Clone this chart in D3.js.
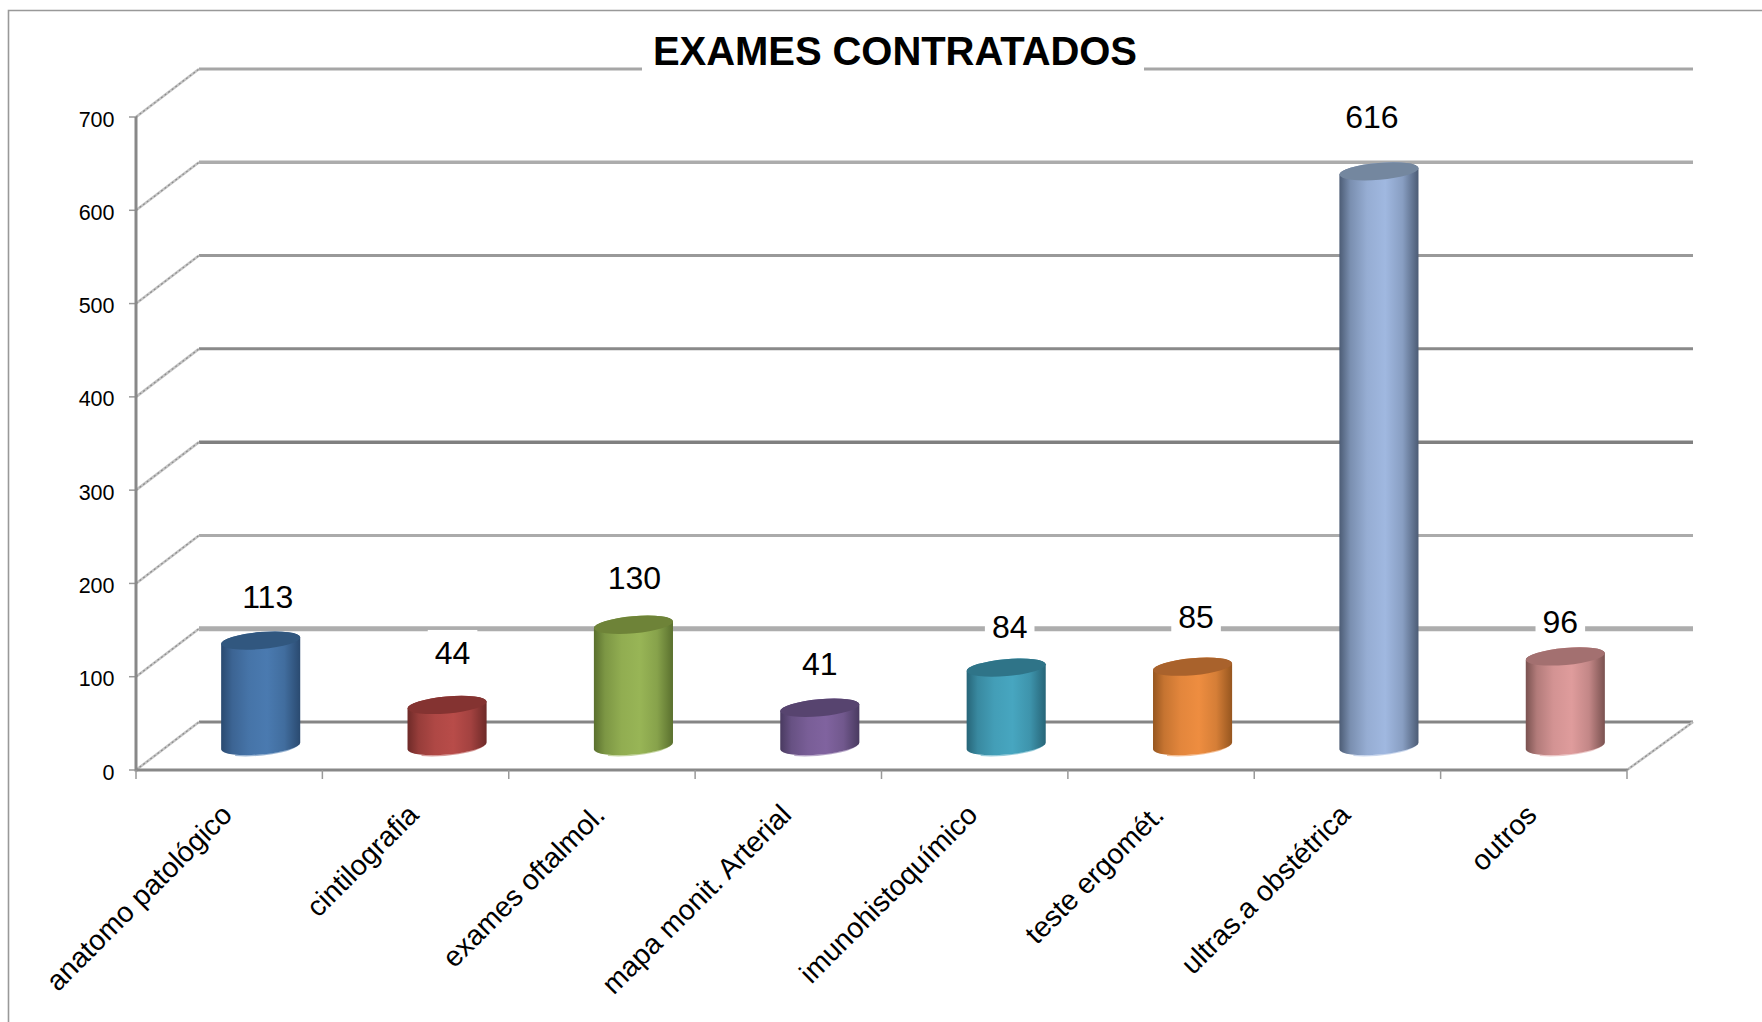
<!DOCTYPE html>
<html><head><meta charset="utf-8">
<script src="https://cdnjs.cloudflare.com/ajax/libs/d3/7.8.5/d3.min.js"></script>
<style>html,body{margin:0;padding:0;background:#fff}svg{display:block}text{font-family:"Liberation Sans",Arial,sans-serif;fill:#000;white-space:pre}</style>
</head><body><svg id="c" width="1762" height="1022"></svg>
<script>
const categories = ["anatomo patológico","cintilografia","exames oftalmol.","mapa monit. Arterial","imunohistoquímico","teste ergomét.","ultras.a obstétrica","outros"];
const values = [113,44,130,41,84,85,616,96];
const yTicks = [0,100,200,300,400,500,600,700];
const titleText = "EXAMES CONTRATADOS";
const barEdge = ["#2a4a70","#6e2a28","#5a702e","#493a60","#276578","#96561f","#4c5c75","#7a5250"];
const barMid  = ["#4a7ab0","#b84c49","#98b556","#80639f","#47a6c0","#ee8d40","#a0b8e0","#df9c9c"];
const barTop  = ["#31577f","#843331","#6e8338","#57446f","#2f7488","#a9622c","#74879f","#a37070"];
const gridColor = ["#858585","#adadad","#ababab","#808080","#8a8a8a","#999999","#acacac","#a6a6a6"];
const gridWidth = [3,5,3,3.5,3,3,3.5,3];
const labelLift = [44,52,47,44,41,50,54,34];
const labelShift = [7,5.5,1,0,3.5,3.5,-7,-5];

const svg = d3.select("#c");
const plotL=136,plotR=1627,plotB=770,plotT=117,depthX=63,depthY=48;
const x = d3.scaleBand().domain(categories).range([plotL,plotR]);
const y = d3.scaleLinear().domain([0,700]).range([plotB,plotT]);
const rx = x.bandwidth()*0.213, ry = 8.5, tilt = 5;
const sin = Math.sin(tilt*Math.PI/180), cos = Math.cos(tilt*Math.PI/180);

// frame
svg.append("path").attr("d","M8.5,1022V10.5H1762").attr("fill","none").attr("stroke","#999").attr("stroke-width",1.6);

// walls
const g = svg.append("g");
function diagonal(x1,y1,x2,y2){
  g.append("line").attr("x1",x1).attr("x2",x2).attr("y1",y1).attr("y2",y2).attr("stroke","#c4c4c4").attr("stroke-width",2.6);
  g.append("line").attr("x1",x1).attr("x2",x2).attr("y1",y1).attr("y2",y2).attr("stroke","#8c8c8c").attr("stroke-width",1.2).attr("stroke-dasharray","2 2.5");
}
yTicks.forEach((t,i)=>{
  const yy=y(t);
  g.append("line").attr("x1",plotL+depthX).attr("x2",plotR+66).attr("y1",yy-depthY).attr("y2",yy-depthY)
    .attr("stroke",gridColor[i]).attr("stroke-width",gridWidth[i]);
  diagonal(plotL,yy,plotL+depthX,yy-depthY);
  g.append("line").attr("x1",plotL-7).attr("x2",plotL).attr("y1",yy).attr("y2",yy).attr("stroke","#999").attr("stroke-width",1.5);
  svg.append("text").attr("x",114.5).attr("y",yy+9.5).attr("text-anchor","end").attr("font-size",21.5).text(t);
});
// floor right side
diagonal(plotR,plotB,plotR+66,plotB-depthY);

// axes
g.append("line").attr("x1",plotL).attr("x2",plotL).attr("y1",plotT).attr("y2",plotB+1.5).attr("stroke","#888").attr("stroke-width",3);
g.append("line").attr("x1",plotL).attr("x2",plotR).attr("y1",plotB).attr("y2",plotB).attr("stroke","#888").attr("stroke-width",3);
d3.range(categories.length+1).forEach(i=>{
  const xx=plotL+i*x.step();
  g.append("line").attr("x1",xx).attr("x2",xx).attr("y1",plotB).attr("y2",plotB+9).attr("stroke","#999").attr("stroke-width",1.5);
});

// gradients
const defs = svg.append("defs");
categories.forEach((c,i)=>{
  const gr=defs.append("linearGradient").attr("id","bar"+i).attr("x1","0").attr("x2","1").attr("y1","0").attr("y2","0");
  [[0,barEdge[i]],[0.14,d3.interpolateRgb(barEdge[i],barMid[i])(0.55)],[0.35,d3.interpolateRgb(barEdge[i],barMid[i])(0.88)],[0.58,barMid[i]],[0.8,d3.interpolateRgb(barEdge[i],barMid[i])(0.72)],[1,barEdge[i]]]
    .forEach(s=>gr.append("stop").attr("offset",s[0]).attr("stop-color",s[1]));
});

// data label white boxes + text
const labels = svg.append("g");
const bars = svg.append("g");
categories.forEach((c,i)=>{
  const cx = x(c)+x.bandwidth()/2+depthX/2;
  const base = y(0)-depthY/2, topY = y(values[i])-depthY/2;
  const lx=cx-rx*cos, rxx=cx+rx*cos;
  const arc=`A${rx},${ry} ${-tilt} 0 0 `;
  const b=bars.append("g");
  // rim of light at the bottom
  b.append("path").attr("d",`M${lx+14},${base+rx*sin+6}${arc}${rxx-3},${base-rx*sin+3}`)
    .attr("fill","none").attr("stroke",d3.interpolateRgb(barMid[i],"#fff")(0.45)).attr("stroke-width",1.2);
  b.append("path").attr("d",`M${lx},${topY+rx*sin}L${lx},${base+rx*sin}${arc}${rxx},${base-rx*sin}L${rxx},${topY-rx*sin}${arc}${lx},${topY+rx*sin}Z`)
    .attr("fill",`url(#bar${i})`);
  b.append("ellipse").attr("cx",cx).attr("cy",topY).attr("rx",rx).attr("ry",ry)
    .attr("transform",`rotate(${-tilt} ${cx} ${topY})`).attr("fill",barTop[i]);

  const ly=y(values[i])-depthY/2-labelLift[i];
  const t=labels.append("text").attr("x",cx+labelShift[i]).attr("y",ly+11).attr("text-anchor","middle").attr("font-size",32).text(values[i]);
  const bb=t.node().getBBox();
  labels.insert("rect","text").attr("x",bb.x-7).attr("y",ly-23).attr("width",bb.width+14).attr("height",46).attr("fill","#fff");
  // category label
  svg.append("text").attr("transform",`translate(${x(c)+x.bandwidth()/2-9.5},${802.5}) rotate(-45)`)
    .attr("text-anchor","end").attr("font-size",28.5).attr("dy","0.7em").text(c);
});

// title
const tt=svg.append("text").attr("x",895).attr("y",65).attr("text-anchor","middle").attr("font-size",40).attr("font-weight","bold").attr("textLength",484).attr("lengthAdjust","spacing").text(titleText);
svg.insert("rect","text").attr("x",642).attr("y",30).attr("width",502).attr("height",50).attr("fill","#fff");
</script></body></html>
